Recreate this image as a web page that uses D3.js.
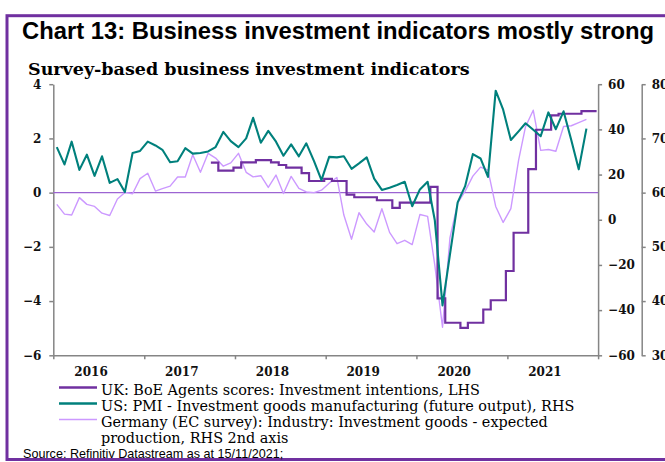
<!DOCTYPE html>
<html>
<head>
<meta charset="utf-8">
<script src="https://cdn.jsdelivr.net/npm/d3@7/dist/d3.min.js"></script>
<style>
  html, body { margin: 0; padding: 0; background: #ffffff; }
  svg { display: block; }
</style>
</head>
<body>
<svg id="chart" width="665" height="462"></svg>
<script>
// ---- Data -------------------------------------------------------------
const yearLabels = ["2016", "2017", "2018", "2019", "2020", "2021"];

// US PMI investment goods, future output (monthly from Jan 2016)
const usFirstMonth = "2016-01";
const usPmi = [
  68.4, 65.2, 69.4, 64.2, 67.0, 63.1, 66.7, 61.8, 62.5, 60.1,
  67.3, 67.7, 69.4, 68.7, 67.9, 65.6, 65.8, 68.2, 67.2, 67.3,
  67.6, 68.4, 71.2, 69.5, 68.4, 70.0, 73.8, 69.2, 71.4, 69.4,
  66.8, 68.9, 66.7, 69.1, 65.8, 62.3, 66.6, 66.5, 66.7, 64.4,
  65.4, 66.5, 62.6, 60.5, 60.9, 61.4, 62.0, 57.5, 60.6, 62.0,
  54.9, 39.2, 48.6, 58.2, 61.2, 67.1, 66.3, 62.9, 78.8, 75.3,
  69.7, 71.3, 72.8, 71.6, 70.4, 74.8, 71.7, 75.0, 69.7, 64.3, 71.8
];

// Germany EC survey, investment goods expected production balance (monthly from Jan 2016)
const deFirstMonth = "2016-01";
const deExpected = [
  6.8, 2.5, 2.1, 9.8, 6.8, 5.9, 2.9, 1.9, 9.2, 12.1,
  11.5, 18.2, 20.6, 12.7, 13.8, 14.9, 18.9, 18.9, 28.8, 21.0,
  29.4, 27.3, 23.7, 25.2, 29.4, 21.0, 19.0, 19.5, 14.3, 19.8,
  11.6, 19.2, 13.9, 12.3, 12.0, 13.1, 16.2, 18.7, 2.1, -8.6,
  3.1, -1.9, -5.4, 4.9, -5.6, -10.6, -9.1, -11.0, 2.3, 1.5,
  -20.1, -47.6, -7.9, 7.4, 12.7, 19.3, 23.3, 22.0, 5.9, -1.2,
  4.9, 26.3, 41.2, 48.5, 30.7, 31.1, 30.3, 41.3, 41.6, 43.0, 44.4
];

// UK BoE Agents' investment intentions score (monthly from Sep 2017)
const ukFirstMonth = "2017-09";
const ukScores = [
  1.11, 0.81, 0.81, 0.92, 1.12, 1.12, 1.20, 1.20, 1.12, 1.02,
  0.92, 0.92, 0.72, 0.43, 0.43, 0.51, 0.43, 0.43, -0.07, -0.17,
  -0.17, -0.17, -0.28, -0.28, -0.56, -0.37, -0.37, -0.37, -0.37, 0.21,
  -3.90, -4.80, -4.80, -4.99, -4.80, -4.80, -4.31, -3.97, -3.97, -2.89,
  -1.48, -1.48, 0.87, 2.32, 2.32, 2.85, 2.91, 2.91, 2.91, 3.01,
  3.01, 3.01
];

const lhsTicks = [4, 2, 0, -2, -4, -6];
const rhsTicks = [60, 40, 20, 0, -20, -40, -60];
const rhs2Ticks = [80, 70, 60, 50, 40, 30];

const legendItems = [
  { key: "uk", lines: ["UK: BoE Agents scores: Investment intentions, LHS"] },
  { key: "us", lines: ["US: PMI - Investment goods manufacturing (future output), RHS"] },
  { key: "de", lines: ["Germany (EC survey): Industry: Investment goods - expected", "production, RHS 2nd axis"] }
];

const titleText = "Chart 13: Business investment indicators mostly strong";
const subtitleText = "Survey-based business investment indicators";
const sourceText = "Source: Refinitiv Datastream as at 15/11/2021;";

// ---- Styles -----------------------------------------------------------
const colors = { uk: "#7030a0", us: "#00807c", de: "#cc99ff", zero: "#9c64d2", axis: "#858585", frame: "#7030a0" };
const serif = "'DejaVu Serif', serif";
const sans = "'Liberation Sans', Arial, sans-serif";

// ---- Layout & scales --------------------------------------------------
const plot = { left: 53.3, right: 598.1, top: 84.2, bottom: 355.3 };
const svg = d3.select("#chart");

const parseMonth = d3.timeParse("%Y-%m");
const monthSeries = (first, values, day) => {
  const start = parseMonth(first);
  return values.map((v, i) => {
    const d = d3.timeMonth.offset(start, i);
    d.setDate(day);
    return { date: d, value: v };
  });
};

const usData = monthSeries(usFirstMonth, usPmi, 15);
const deData = monthSeries(deFirstMonth, deExpected, 15);
const ukData = monthSeries(ukFirstMonth, ukScores, 26);

const x = d3.scaleTime()
  .domain([new Date(2016, 0, 1), new Date(2022, 0, 1)])
  .range([plot.left, plot.right]);
const yL = d3.scaleLinear().domain([-6, 4]).range([plot.bottom, plot.top]);
const yR = d3.scaleLinear().domain([-60, 60]).range([plot.bottom, plot.top]);
const yR2 = d3.scaleLinear().domain([30, 80]).range([plot.bottom, plot.top]);

// ---- Frame ------------------------------------------------------------
svg.append("rect")
  .attr("x", 7).attr("y", 15.7).attr("width", 700).attr("height", 443.8)
  .attr("fill", "none").attr("stroke", colors.frame).attr("stroke-width", 3);

// ---- Titles -----------------------------------------------------------
svg.append("text")
  .attr("x", 22).attr("y", 38.5)
  .attr("font-family", sans).attr("font-weight", "bold").attr("font-size", 23.8)
  .attr("fill", "#000").text(titleText);

svg.append("text")
  .attr("x", 28).attr("y", 75)
  .attr("font-family", serif).attr("font-weight", "bold").attr("font-size", 17.5)
  .attr("fill", "#000").text(subtitleText);

// ---- Axes -------------------------------------------------------------
function styleAxis(g) {
  g.select(".domain").attr("stroke", colors.axis).attr("stroke-width", 1.5);
  g.selectAll(".tick line").attr("stroke", colors.axis).attr("stroke-width", 1.5);
  g.selectAll(".tick text")
    .attr("font-family", serif).attr("font-weight", "bold").attr("font-size", 12)
    .attr("fill", "#111");
}

svg.append("g")
  .attr("transform", `translate(${plot.left},0)`)
  .call(d3.axisLeft(yL).tickValues(lhsTicks).tickSize(4).tickSizeOuter(0).tickPadding(8)
    .tickFormat(d3.format("d")))
  .call(styleAxis);

svg.append("g")
  .attr("transform", `translate(${plot.right},0)`)
  .call(d3.axisRight(yR).tickValues(rhsTicks).tickSize(4).tickSizeOuter(0).tickPadding(6)
    .tickFormat(d3.format("d")))
  .call(styleAxis);

// second right-hand axis sits at the window edge, so its labels run off the page
svg.append("g")
  .attr("transform", `translate(${plot.right + 43.6},0)`)
  .call(d3.axisRight(yR2).tickValues(rhs2Ticks).tickSize(4).tickSizeOuter(0).tickPadding(6)
    .tickFormat(d3.format("d")))
  .call(styleAxis);

svg.append("g")
  .attr("transform", `translate(0,${plot.bottom})`)
  .call(d3.axisBottom(x).ticks(d3.timeYear.every(1)).tickSize(4).tickSizeOuter(0).tickFormat(""))
  .call(styleAxis);

// year labels, one per calendar year
svg.append("g").selectAll("text")
  .data(yearLabels)
  .join("text")
  .attr("x", d => x(new Date(+d, 5, 1)))
  .attr("y", 375.5)
  .attr("text-anchor", "middle")
  .attr("font-family", serif).attr("font-weight", "bold").attr("font-size", 12)
  .attr("fill", "#111")
  .text(d => d);

// ---- Zero line --------------------------------------------------------
svg.append("line")
  .attr("x1", plot.left).attr("x2", plot.right)
  .attr("y1", yL(0)).attr("y2", yL(0))
  .attr("stroke", colors.zero).attr("stroke-width", 1.4);

// ---- Series -----------------------------------------------------------
const deLine = d3.line().x(d => x(d.date)).y(d => yR(d.value));
const usLine = d3.line().x(d => x(d.date)).y(d => yR2(d.value));
const ukLine = d3.line().x(d => x(d.date)).y(d => yL(d.value)).curve(d3.curveStepAfter);

svg.append("path").datum(deData)
  .attr("d", deLine).attr("fill", "none")
  .attr("stroke", colors.de).attr("stroke-width", 1.4).attr("stroke-linejoin", "round");

svg.append("path").datum(ukData)
  .attr("d", ukLine).attr("fill", "none")
  .attr("stroke", colors.uk).attr("stroke-width", 2.2);

svg.append("path").datum(usData)
  .attr("d", usLine).attr("fill", "none")
  .attr("stroke", colors.us).attr("stroke-width", 2.1).attr("stroke-linejoin", "round");

// ---- Legend -----------------------------------------------------------
const legendWidths = { uk: 2.6, us: 2.6, de: 1.4 };
let rowY = 390;
legendItems.forEach(item => {
  svg.append("line")
    .attr("x1", 59).attr("x2", 97)
    .attr("y1", rowY - 2.5).attr("y2", rowY - 2.5)
    .attr("stroke", colors[item.key]).attr("stroke-width", legendWidths[item.key]);
  item.lines.forEach(line => {
    svg.append("text")
      .attr("x", 101).attr("y", rowY + 4.6)
      .attr("font-family", serif).attr("font-size", 14.4)
      .attr("fill", "#000").text(line);
    rowY += 16;
  });
});

// ---- Source -----------------------------------------------------------
svg.append("text")
  .attr("x", 23).attr("y", 458.4)
  .attr("font-family", sans).attr("font-size", 12.6)
  .attr("fill", "#000").text(sourceText);
</script>
</body>
</html>
